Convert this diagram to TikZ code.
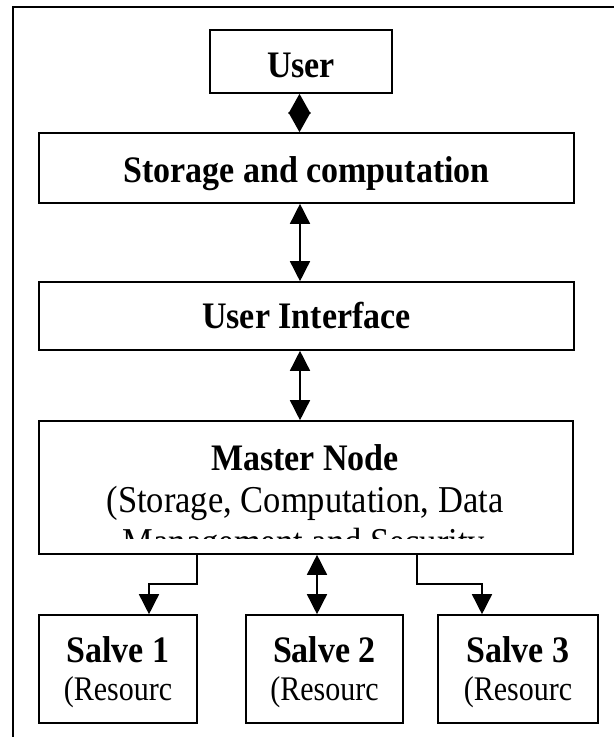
\documentclass[tikz,border=0pt]{standalone}
\usepackage{fontspec}
\setmainfont{Liberation Serif}
\usetikzlibrary{arrows.meta,calc}

\newcommand{\boxbf}{\fontsize{34}{40}\selectfont\bfseries}
\newcommand{\boxrm}{\fontsize{34.5}{40}\selectfont}
\newcommand{\slrm}{\fontsize{30}{36}\selectfont}
% the printed text is a little stretched in height
\newcommand{\tall}[1]{\scalebox{1}[1.1]{#1}}

\begin{document}
\begin{tikzpicture}[
    x=1pt, y=1pt,
    box/.style={rectangle, draw, line width=1.6pt, inner sep=0pt},
    head/.style={font=\boxbf, text height=26pt, text depth=0pt},
    link/.style={line width=1.5pt,
        {Triangle[length=20pt,width=20pt]}-{Triangle[length=20pt,width=20pt]}},
    flow/.style={line width=1.5pt, -{Triangle[length=20pt,width=20pt]}}
]
\useasboundingbox (0,0) rectangle (614,-737);

% --- outer frame (only left and top edge show)
\draw[line width=1.5pt] (13,-737) -- (13,-7) -- (614,-7);

% --- stacked layers
\node[box, head, text height=31pt, minimum width=182pt, minimum height=63pt] (user) at (301,-61.5) {\tall{User}};
\node[box, head, text height=28pt, minimum width=535pt, minimum height=70pt] (store) at (306.5,-168) {\tall{Storage and computation}};
\node[box, head, text height=24pt, minimum width=535pt, minimum height=68pt] (ui) at (306.5,-316) {\tall{User Interface}};
\node[box, minimum width=534pt, minimum height=133pt] (master) at (306,-487.5) {};

% master node text, last line cut off by the box
\node[anchor=base, font=\boxbf] (mtitle) at (305,-470) {\tall{Master Node}};
\node[anchor=base, font=\boxrm] (mdesc) at (305,-512) {\tall{(Storage, Computation, Data}};
\begin{scope}
  \clip (39,-421) rectangle (573,-538);
  \node[anchor=base, font=\boxrm] (mrest) at (304,-554) {\tall{Management and Security}};
\end{scope}

% --- slaves
\foreach \i/\cx/\w in {1/118/158, 2/324.5/157, 3/518/160} {
  \node[box, minimum width=\w pt, minimum height=108pt] (salve\i) at (\cx,-669) {};
  \node[anchor=base, font=\boxbf] (sname\i) at (\cx,-662) {\tall{Salve \i}};
  \node[anchor=base, font=\slrm] (sres\i) at (\cx,-700) {\scalebox{1}[1.15]{(Resourc}};
}

% --- connectors
\draw[line width=1.5pt,
      {Triangle[length=20pt,width=22pt]}-{Triangle[length=20pt,width=22pt]}]
      (user.south -| 299.5,0) -- (store.north -| 299.5,0);
\draw[link] (store.south -| 300,0) -- (ui.north -| 300,0);
\draw[link] (ui.south -| 300,0) -- (master.north -| 300,0);
\draw[link] (master.south -| 317,0) -- (salve2.north -| 317,0);

\coordinate (j1) at (149,-584);
\coordinate (j3) at (482,-584);
\draw[flow] (master.south -| 197,0) |- (j1) -- (j1 |- salve1.north);
\draw[flow] (master.south -| 417,0) |- (j3) -- (j3 |- salve3.north);
\end{tikzpicture}
\end{document}
